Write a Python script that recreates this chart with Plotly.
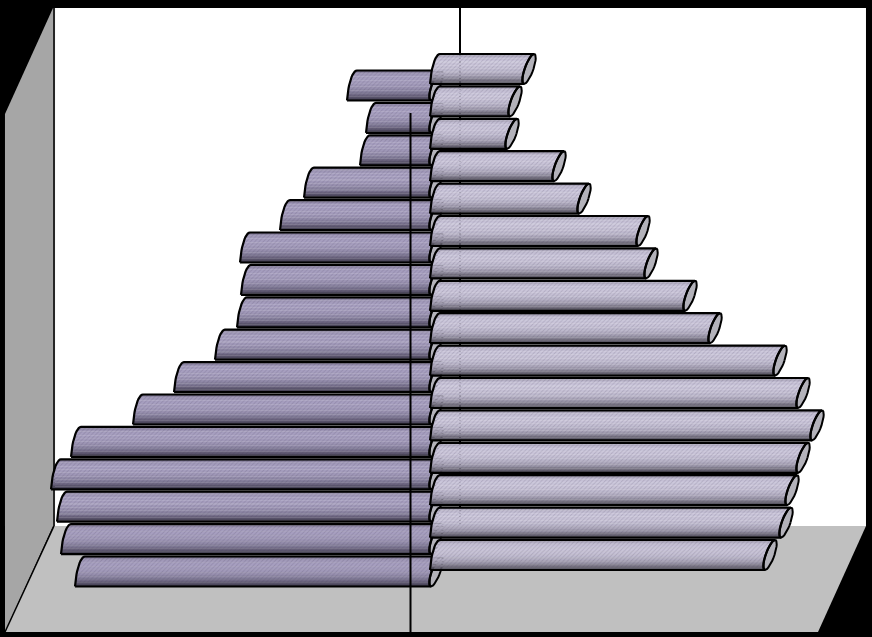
import numpy as np
import plotly.graph_objects as go

# Data: row 0 is the front/bottom row
rows = list(range(16))
left_values = [356, 370, 374, 380, 360, 298, 257, 216, 194, 190, 191, 151, 127, 71, 65, 84]
right_values = [334, 350, 356, 367, 381, 367, 344, 279, 254, 215, 207, 148, 123, 76, 79, 93]

W, H = 872, 637
X0_PX = 431
Y0_PX = 555
ROW_PX = 32.4
x_range = [-X0_PX, W - X0_PX]
y_range = [(Y0_PX - H) / ROW_PX, Y0_PX / ROW_PX]

HALF = 15.0 / ROW_PX
SLANT = 10.0
BULGE = 4.5
LEFT_SHIFT = -16.5 / ROW_PX
RIGHT_START = -1

LEFT_STOPS = ["#7f7893", "#a098b8", "#a79fc0", "#a79fc0", "#a59dbd", "#a098b8", "#978fae", "#8a83a0", "#77708c", "#5c566e", "#3e3a4b"]
RIGHT_STOPS = ["#a09cae", "#c2bdd2", "#cac5da", "#cbc6da", "#c9c4d8", "#c3bed2", "#bab5c9", "#aca7ba", "#9793a5", "#757180", "#4d4a56"]
CAP_COLOR = "#b3b2ba"
BANDS_PER_STOP = 2


def hex_rgb(c):
    return np.array([int(c[i:i + 2], 16) for i in (1, 3, 5)], dtype=float)


def refine(stops):
    out = []
    for a, b in zip(stops[:-1], stops[1:]):
        for k in range(BANDS_PER_STOP):
            mix = hex_rgb(a) + (hex_rgb(b) - hex_rgb(a)) * k / BANDS_PER_STOP
            out.append("#%02x%02x%02x" % tuple(int(round(v)) for v in mix))
    out.append(stops[-1])
    return out


def rim(base, s):
    """Near rim of a cylinder: curved, sharper at the lower corner."""
    u = (s + 1) / 2
    return base + SLANT * (0.2 * u + 0.8 * (1 - np.sqrt(np.clip(1 - u * u, 0, 1))))


def edge(base, s, side):
    """x of the tilted far-end ellipse at relative height s (-1..1)."""
    return base + SLANT / 2 * (1 + s) + side * BULGE * np.sqrt(np.clip(1 - s * s, 0, 1))


def band_path(a, b, yc, s0, s1):
    s = np.linspace(s0, s1, 5)
    xl = rim(a, s)
    xr = edge(b, s, -1)
    ys = yc + s * HALF
    return list(xl) + list(xr[::-1]) + [xl[0], None], list(ys) + list(ys[::-1]) + [ys[0], None]


def body_traces(spans, shift, colors):
    out = []
    n = len(colors)
    edges = np.linspace(1, -1, n + 1)
    for k, c in enumerate(colors):
        xs, ys = [], []
        for row, (a, b) in zip(rows, spans):
            px_, py_ = band_path(a, b, row + shift, edges[k + 1] - 0.02, edges[k])
            xs += px_
            ys += py_
        out.append(go.Scatter(
            x=xs, y=ys, mode="lines", fill="toself", line=dict(width=0),
            fillcolor=c, hoverinfo="skip", showlegend=False,
            fillpattern=dict(shape="/", size=3, solidity=0.3, fgcolor="rgba(70,62,90,0.4)", bgcolor=c),
        ))
    return out


def outline_trace(spans, shift):
    t = np.linspace(-np.pi / 2, np.pi / 2, 17)
    s = np.sin(t)
    xs, ys = [], []
    for row, (a, b) in zip(rows, spans):
        yc = row + shift
        xs += list(rim(a, s)) + list(edge(b, s[::-1], -1)) + [rim(a, s[0]), None]
        ys += list(yc + s * HALF) + list(yc + s[::-1] * HALF) + [yc + s[0] * HALF, None]
    return go.Scatter(x=xs, y=ys, mode="lines", line=dict(color="#000000", width=2.2),
                      hoverinfo="skip", showlegend=False)


def cap_trace(spans, shift):
    t = np.linspace(0, 2 * np.pi, 33)
    s = np.sin(t)
    xs, ys = [], []
    for row, (a, b) in zip(rows, spans):
        yc = row + shift
        side = np.where(np.cos(t) >= 0, 1, -1)
        xs += list(edge(b, s, side)) + [None]
        ys += list(yc + s * HALF) + [None]
    return go.Scatter(x=xs, y=ys, mode="lines", fill="toself", fillcolor=CAP_COLOR,
                      line=dict(color="#000000", width=2), hoverinfo="skip", showlegend=False)


left_spans = [(-v, 0) for v in left_values]
right_spans = [(RIGHT_START, v) for v in right_values]

fig = go.Figure()
for tr in body_traces(left_spans, LEFT_SHIFT, refine(LEFT_STOPS)):
    fig.add_trace(tr)
fig.add_trace(cap_trace(left_spans, LEFT_SHIFT))
fig.add_trace(outline_trace(left_spans, LEFT_SHIFT))
for tr in body_traces(right_spans, 0, refine(RIGHT_STOPS)):
    fig.add_trace(tr)
fig.add_trace(cap_trace(right_spans, 0))
fig.add_trace(outline_trace(right_spans, 0))


def px(x):
    return x / W


def py(y):
    return 1 - y / H


def poly(points, fill):
    path = "M " + " L ".join(f"{px(a):.4f},{py(b):.4f}" for a, b in points) + " Z"
    return dict(type="path", path=path, xref="paper", yref="paper", fillcolor=fill,
                line=dict(width=0), layer="below")


def vline(x, y0, y1, layer, width=2, color="#000000"):
    return dict(type="line", xref="paper", yref="paper", x0=px(x), x1=px(x), y0=py(y0), y1=py(y1),
                line=dict(color=color, width=width), layer=layer)


shapes = [
    poly([(55, 8), (866, 8), (866, 526), (55, 526)], "#ffffff"),
    poly([(5, 632), (54, 526), (866, 526), (818, 632)], "#c0c0c0"),
    poly([(5, 114), (53, 8), (53, 526), (5, 632)], "#a6a6a6"),
    vline(54, 8, 526, "below", 1.5, "#333333"),
    dict(type="line", xref="paper", yref="paper", x0=px(5), x1=px(54), y0=py(632), y1=py(526),
         line=dict(color="#000000", width=1.5), layer="below"),
    vline(460, 8, 526, "below"),
    vline(410.5, 113, 632, "above"),
]

fig.update_layout(
    width=W, height=H, margin=dict(l=0, r=0, t=0, b=0), autosize=False,
    paper_bgcolor="#000000", plot_bgcolor="rgba(0,0,0,0)", showlegend=False,
    xaxis=dict(range=x_range, visible=False, fixedrange=True),
    yaxis=dict(range=y_range, visible=False, fixedrange=True),
    shapes=shapes,
)

fig.write_html(
    "out.html",
    config={"displayModeBar": False},
    post_script="document.body.style.margin='0';document.body.style.background='#000';document.documentElement.style.overflow='hidden';",
)
